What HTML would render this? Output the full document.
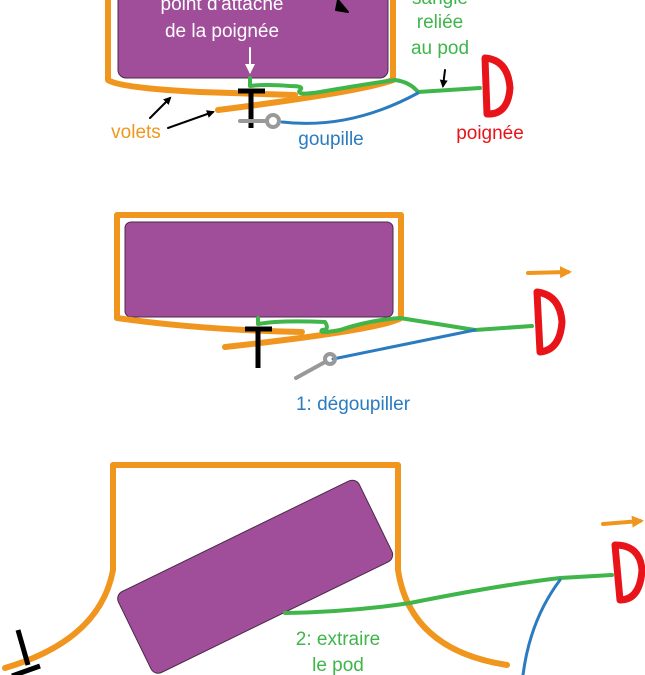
<!DOCTYPE html>
<html><head><meta charset="utf-8"><style>
html,body{margin:0;padding:0;background:#fff;}
svg{display:block;}
text{font-family:"Comic Sans MS","Liberation Sans",sans-serif;font-size:19px;}
</style></head><body>
<svg width="645" height="675" viewBox="0 0 645 675" xmlns="http://www.w3.org/2000/svg">
<defs>
<marker id="ab" markerWidth="8" markerHeight="8" refX="6" refY="4" orient="auto" markerUnits="userSpaceOnUse"><path d="M0,0 L8,4 L0,8 z" fill="#000"/></marker>
<marker id="aw" markerWidth="10" markerHeight="10" refX="8" refY="5" orient="auto" markerUnits="userSpaceOnUse"><path d="M0,0 L10,5 L0,10 z" fill="#fff"/></marker>
<marker id="ao" markerWidth="12" markerHeight="12" refX="8" refY="6" orient="auto" markerUnits="userSpaceOnUse"><path d="M0,0 L12,6 L0,12 z" fill="#F0961E"/></marker>
</defs>
<g fill="none" stroke-linecap="round" stroke-linejoin="round">
<!-- Panel 1 -->
<rect x="118" y="-20" width="270" height="98" rx="8" fill="#A04E9A" stroke="#4a2a48" stroke-width="1"/>
<path d="M108,-5 L108,80 Q120,88 200,92 L295,95" stroke="#F0961E" stroke-width="6"/>
<path d="M393,-5 L393,80 Q360,92 218,110" stroke="#F0961E" stroke-width="6"/>
<path d="M250,78 L250,86 Q265,84 290,86 Q305,86 300,90 Q295,96 320,92 Q360,85 395,80 Q410,82 418,92 L480,88" stroke="#3FB54A" stroke-width="4"/>
<path d="M282,122 Q350,130 418,93" stroke="#2A7BBF" stroke-width="3"/>
<path d="M238,91 L265,91 M251,91 L251,128" stroke="#000" stroke-width="5" stroke-linecap="butt"/>
<path d="M240,121 L265,121" stroke="#999" stroke-width="4"/>
<circle cx="273" cy="121" r="6" stroke="#999" stroke-width="4"/>
<path d="M250,48 L250,72" stroke="#fff" stroke-width="2" marker-end="url(#aw)"/>
<path d="M338,0 L348,12 L336,10 z" fill="#000" stroke="#000" stroke-width="2"/>
<path d="M445,70 L443,86" stroke="#000" stroke-width="2" marker-end="url(#ab)"/>
<path d="M150,118 L170,98" stroke="#000" stroke-width="2" marker-end="url(#ab)"/>
<path d="M168,128 L213,112" stroke="#000" stroke-width="2" marker-end="url(#ab)"/>
<path d="M485,58 Q508,60 510,88 Q508,115 487,114 Z" stroke="#E8141A" stroke-width="7"/>
<!-- Panel 2 -->
<rect x="125" y="222" width="268" height="95" rx="6" fill="#A04E9A" stroke="#4a2a48" stroke-width="1"/>
<path d="M302,332 Q200,330 117,318 L117,215 L401,215 L401,318 Q380,330 225,347" stroke="#F0961E" stroke-width="6"/>
<path d="M258,318 L258,324 Q280,320 325,322 Q330,330 322,330 Q318,334 340,330 Q370,320 400,318 L475,330 L532,326" stroke="#3FB54A" stroke-width="4"/>
<path d="M333,359 L475,330" stroke="#2A7BBF" stroke-width="3"/>
<path d="M245,329 L272,329 M258,329 L258,368" stroke="#000" stroke-width="5" stroke-linecap="butt"/>
<path d="M296,378 L325,362" stroke="#999" stroke-width="4"/>
<circle cx="330" cy="359" r="5" stroke="#999" stroke-width="4"/>
<path d="M537,292 Q560,295 562,322 Q560,350 540,352 Z" stroke="#E8141A" stroke-width="7"/>
<path d="M528,273 L568,272" stroke="#F0961E" stroke-width="4" marker-end="url(#ao)"/>
<!-- Panel 3 -->
<g transform="translate(115,595) rotate(-26)"><rect x="0" y="0" width="268" height="90" rx="8" fill="#A04E9A" stroke="#4a2a48" stroke-width="1"/></g>
<path d="M5,668 Q100,640 113,570 L113,465 L398,465 L398,570 Q410,650 507,665" stroke="#F0961E" stroke-width="6"/>
<path d="M285,613 Q350,612 410,603 Q500,585 560,578 L612,575" stroke="#3FB54A" stroke-width="4"/>
<path d="M560,580 Q530,620 523,675" stroke="#2A7BBF" stroke-width="3"/>
<path d="M18,630 L28,665 M12,676 L40,666" stroke="#000" stroke-width="5" stroke-linecap="butt"/>
<path d="M615,545 Q640,545 642,570 Q640,600 620,600 Z" stroke="#E8141A" stroke-width="7"/>
<path d="M603,524 L640,521" stroke="#F0961E" stroke-width="4" marker-end="url(#ao)"/>
</g>
<!-- Text -->
<g text-anchor="middle">
<text x="222" y="10" fill="#fff">point d'attache</text>
<text x="222" y="37" fill="#fff">de la poignée</text>
<text x="440" y="4" fill="#3FB54A">sangle</text>
<text x="440" y="28" fill="#3FB54A">reliée</text>
<text x="440" y="54" fill="#3FB54A">au pod</text>
<text x="136" y="138" fill="#F0961E">volets</text>
<text x="331" y="145" fill="#2A7BBF">goupille</text>
<text x="490" y="139" fill="#E8141A">poignée</text>
<text x="353" y="410" fill="#2A7BBF">1: dégoupiller</text>
<text x="338" y="645" fill="#3FB54A">2: extraire</text>
<text x="338" y="671" fill="#3FB54A">le pod</text>
</g>
</svg>
</body></html>
